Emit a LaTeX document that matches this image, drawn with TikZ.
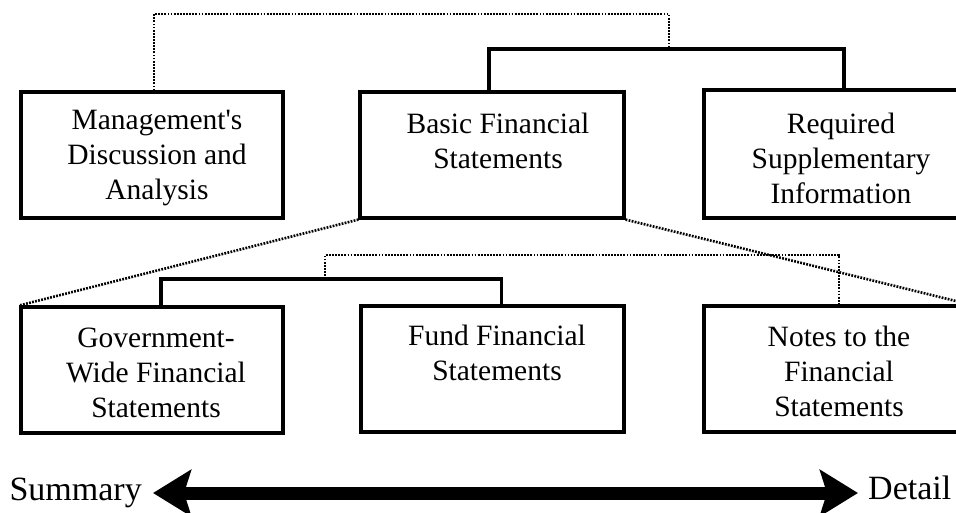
\documentclass[tikz,border=0pt]{standalone}
\usepackage{fontspec}
\setmainfont{Liberation Serif}
\usetikzlibrary{arrows.meta,calc}
\tikzset{
  box/.style={draw, line width=3.2pt, rectangle, inner sep=0pt, minimum height=126pt},
  txt/.style={align=center, inner sep=0pt, font=\fontsize{29.5}{35}\selectfont},
  bigtxt/.style={inner sep=0pt, font=\fontsize{34}{40}\selectfont},
  bracket/.style={line width=3.2pt, line join=miter},
  dotline/.style={line width=2.6pt, dash pattern=on 1.8pt off 1.3pt},
  scale arrow/.style={line width=13pt, {Stealth[length=38pt,width=46pt,inset=7pt]}-{Stealth[length=38pt,width=46pt,inset=7pt]}}
}
\begin{document}
\begin{tikzpicture}[x=1pt,y=-1pt]
\useasboundingbox (0,0) rectangle (956,512);
\clip (0,0) rectangle (956,512);
\fill[white] (0,0) rectangle (956,512);
% boxes
\node[box, minimum width=262pt] (mda) at (152,155) {};
\node[box, minimum width=264pt] (basic) at (492,155) {};
\node[box, minimum width=264pt, minimum height=128pt] (rsi) at (836,154) {};
\node[box, minimum width=262pt] (gov) at (152,370) {};
\node[box, minimum width=263pt] (fund) at (492.5,369) {};
\node[box, minimum width=264pt] (notes) at (836,369) {};
% texts
\node[txt] (mdat) at (157,158) {Management\textquotesingle s\\Discussion and\\Analysis};
\node[txt] (basict) at (498,140.5) {Basic Financial\\Statements};
\node[txt] (rsit) at (841,158) {Required\\Supplementary\\Information};
\node[txt] (govt) at (156,373) {Government-\\Wide Financial\\Statements};
\node[txt] (fundt) at (497,352.5) {Fund Financial\\Statements};
\node[txt] (notest) at (839,371) {Notes to the\\Financial\\Statements};
% connector coordinates
\coordinate (tb) at (669,49);
\coordinate (lb) at (325,279);
% top solid bracket
\draw[bracket] ([xshift=-3pt]basic.north) -- ([xshift=-3pt]basic.north |- tb) -- ([xshift=8pt]rsi.north |- tb) -- ([xshift=8pt]rsi.north);
% top dotted bracket
\draw[dotline] ([xshift=2pt]mda.north) -- ([xshift=2pt]mda.north |- 0,14) -| (tb);
% diagonals
\draw[dotline] (basic.south west) -- (gov.north west);
\draw[dotline] (basic.south east) -- (notes.north east);
% lower solid bracket
\draw[bracket] ([xshift=9pt]gov.north) -- ([xshift=9pt]gov.north |- lb) -- ([xshift=9pt]fund.north |- lb) -- ([xshift=9pt]fund.north);
% lower dotted bracket
\draw[dotline] (lb) -- (lb |- 0,255) -| ([xshift=3pt]notes.north);
% summary-detail arrow
\coordinate (sumL) at (153,493);
\coordinate (detR) at (858,493);
\draw[scale arrow] (sumL) -- (detR);
\node[bigtxt, anchor=base east] (sum) at (142,500) {Summary};
\node[bigtxt, anchor=base west] (det) at (868,499) {Detail};
\end{tikzpicture}
\end{document}
